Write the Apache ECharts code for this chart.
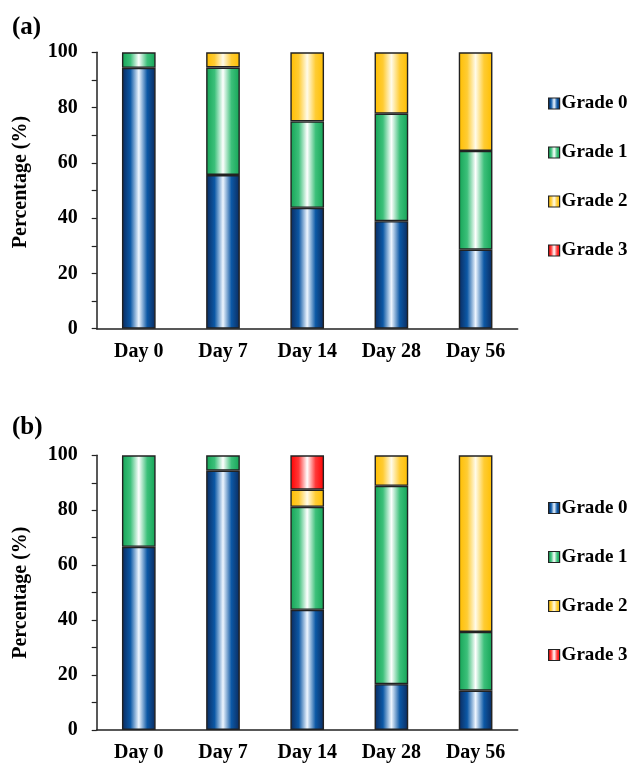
<!DOCTYPE html>
<html><head><meta charset="utf-8">
<script src="https://cdn.jsdelivr.net/npm/echarts@6/dist/echarts.min.js"></script>
<style>html,body{margin:0;padding:0;background:#fff}#c{width:630px;height:763px}</style>
</head><body><div id="c"></div>
<script>
const categories = ['Day 0', 'Day 7', 'Day 14', 'Day 28', 'Day 56'];
const grades = ['Grade 0', 'Grade 1', 'Grade 2', 'Grade 3'];
const yTicks = [0, 20, 40, 60, 80, 100];
// panel (a)
const aGrade0 = [94.4, 55.6, 43.75, 38.9, 28.6];
const aGrade1 = [5.6, 38.9, 31.25, 38.9, 35.7];
const aGrade2 = [0, 5.5, 25.0, 22.2, 35.7];
const aGrade3 = [0, 0, 0, 0, 0];
// panel (b)
const bGrade0 = [66.7, 94.4, 43.75, 16.7, 14.3];
const bGrade1 = [33.3, 5.6, 37.5, 72.2, 21.4];
const bGrade2 = [0, 0, 6.25, 11.1, 64.3];
const bGrade3 = [0, 0, 12.5, 0, 0];

function grad(edge, mid, center) {
  return {type:'linear', x:0, y:0, x2:1, y2:0, colorStops:[
    {offset:0, color:edge},{offset:0.25, color:mid},{offset:0.5, color:center},
    {offset:0.75, color:mid},{offset:1, color:edge}]};
}
const fills = [
  grad('#0a2a5e', '#0c58a5', '#eef6ff'),
  grad('#14a456', '#3cc07a', '#ffffff'),
  grad('#ffbe00', '#ffcc33', '#fffbea'),
  grad('#ff0000', '#ff3838', '#ffffff')
];
const font = 'Liberation Serif, Times New Roman, serif';
const panels = [[aGrade0, aGrade1, aGrade2, aGrade3], [bGrade0, bGrade1, bGrade2, bGrade3]];
const tops = [52.3, 455.3];

const chart = echarts.init(document.getElementById('c'), null, {renderer:'canvas'});
const series = [];
panels.forEach((p, gi) => {
  p.forEach((vals, si) => {
    series.push({
      type:'bar', name:grades[si], xAxisIndex:gi, yAxisIndex:gi, stack:'s'+gi,
      barWidth:'40%',
      data: vals.map(v => v === 0 ? null : v),
      itemStyle:{color:fills[si], borderColor:'#222', borderWidth:1.4},
      emphasis:{disabled:true}
    });
  });
});
const option = {
  animation:false,
  title:[
    {text:'(a)', left:7, top:10, textStyle:{fontFamily:font, fontWeight:'bold', fontSize:25, color:'#000'}},
    {text:'(b)', left:7, top:410, textStyle:{fontFamily:font, fontWeight:'bold', fontSize:25, color:'#000'}}
  ],
  legend: tops.map((t, i) => ({
    data:grades, orient:'vertical', left:548, top:(i===0?94:498.5), padding:0, icon:'rect',
    itemWidth:11, itemHeight:11, itemGap:30, selectedMode:false,
    textStyle:{fontFamily:font, fontWeight:'bold', fontSize:19, color:'#000', lineHeight:19, padding:[0,0,0,-3]},
    itemStyle:{borderColor:'#222', borderWidth:1.2}
  })),
  grid: tops.map(t => ({left:96.7, top:t, width:421, height:276.4})),
  xAxis: tops.map((t, i) => ({
    type:'category', data:categories, gridIndex:i,
    axisLine:{lineStyle:{color:'#222', width:1.5}},
    axisTick:{show:false},
    axisLabel:{fontFamily:font, fontWeight:'bold', fontSize:20, color:'#000', margin:13}
  })),
  yAxis: tops.map((t, i) => ({
    type:'value', gridIndex:i, min:yTicks[0], max:yTicks[yTicks.length-1], interval:20,
    name:'Percentage (%)', nameLocation:'middle', nameGap:66, nameRotate:90,
    nameTextStyle:{fontFamily:font, fontWeight:'bold', fontSize:20, color:'#000',
      padding:(i===0?[0,0,0,17]:0)},
    axisLine:{show:true, lineStyle:{color:'#222', width:1.5}},
    axisTick:{show:true, length:5, lineStyle:{color:'#222', width:1.2}},
    minorTick:{show:true, splitNumber:2, length:5, lineStyle:{color:'#222', width:1.2}},
    splitLine:{show:false},
    axisLabel:{fontFamily:font, fontWeight:'bold', fontSize:20, color:'#000', margin:19}
  })),
  series:series
};
chart.setOption(option);
</script></body></html>
